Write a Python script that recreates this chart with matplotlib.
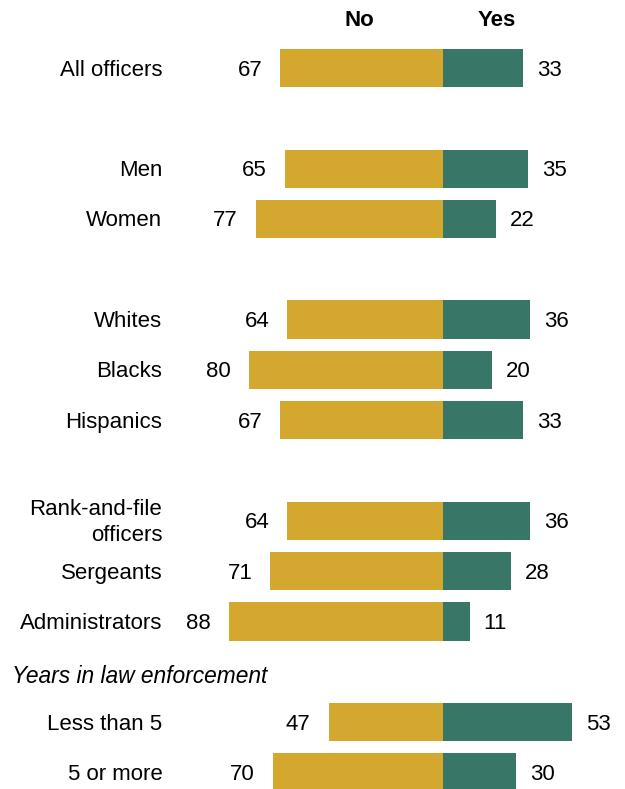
import matplotlib
matplotlib.use('Agg')
import matplotlib.pyplot as plt

plt.rcParams['font.family'] = ['Liberation Sans', 'DejaVu Sans']

# row slots (None = blank gap)
labels = ['All officers', None, 'Men', 'Women', None, 'Whites', 'Blacks', 'Hispanics', None,
          'Rank-and-file\nofficers', 'Sergeants', 'Administrators', None, 'Less than 5', '5 or more']
no_vals = [67, None, 65, 77, None, 64, 80, 67, None, 64, 71, 88, None, 47, 70]
yes_vals = [33, None, 35, 22, None, 36, 20, 33, None, 36, 28, 11, None, 53, 30]
section_header = 'Years in law enforcement'
header_slot = 12

GOLD = '#D4A72F'
GREEN = '#387767'

fig = plt.figure(figsize=(6.25, 7.89), dpi=100)
ax = fig.add_axes([0, 0, 1, 1])
ax.set_xlim(-182.3, 74.9)
ax.set_ylim(14.33, -1.352)
ax.axis('off')

dy = 0.04  # text sits a touch below bar centre
for i, (lab, n, y) in enumerate(zip(labels, no_vals, yes_vals)):
    if lab is None:
        continue
    ax.barh(i, -n, height=0.76, color=GOLD, left=0)
    ax.barh(i, y, height=0.76, color=GREEN, left=0)
    ax.annotate(str(n), (-n, i + dy), xytext=(-13, 0), textcoords='offset points',
                ha='right', va='center', fontsize=16)
    ax.annotate(str(y), (y, i + dy), xytext=(10, 0), textcoords='offset points',
                ha='left', va='center', fontsize=16)
    ax.text(-115.5, i + dy, lab, ha='right', va='center', fontsize=16, linespacing=1.3)

ax.text(12 / 2.43 - 182.3, header_slot + 0.09, section_header, ha='left', va='center',
        fontsize=16.4, style='italic')
ax.text(-34.6, -0.95, 'No', ha='center', va='center', fontsize=16, fontweight='bold')
ax.text(22.2, -0.95, 'Yes', ha='center', va='center', fontsize=16, fontweight='bold')

fig.savefig('out.png', dpi=100)
